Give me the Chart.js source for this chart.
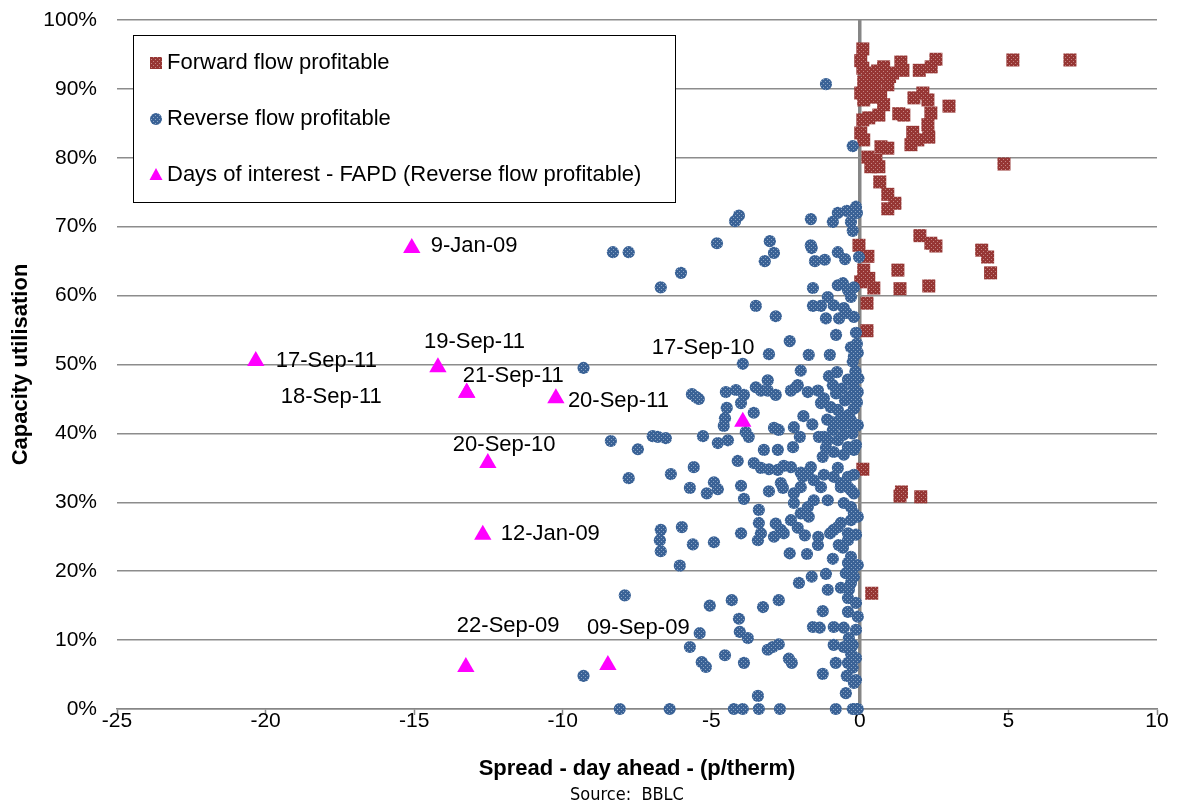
<!DOCTYPE html>
<html lang="en">
<head>
<meta charset="UTF-8">
<title>Capacity utilisation vs day-ahead spread</title>
<script src="https://cdn.jsdelivr.net/npm/chart.js"></script>
<style>
    body { margin: 0; background: #fff; }
    #wrap { width: 1184px; height: 805px; }
</style>
</head>
<body>
<div id="wrap"><canvas id="spreadChart" width="1184" height="805"></canvas></div>
<script>
// ---- data (spread p/therm, capacity utilisation %) ----
const forwardPoints = [
    [0.1,95.8],[0.03,94.1],[0.1,93.0],[0.27,92.3],[0.8,93.2],[1.38,93.9],[1.45,92.7],[1.1,92.3],[2.0,92.7],[2.4,93.2],
    [2.56,94.3],[5.15,94.2],[7.07,94.2],[0.54,91.6],[0.13,91.0],[0.94,90.6],[0.4,92.0],[0.6,92.6],[1.0,91.8],[0.2,90.0],
    [0.5,90.3],[0.03,89.4],[0.35,89.8],[0.7,89.2],[0.47,88.8],[0.13,88.4],[0.8,87.7],[1.82,88.7],[2.12,89.4],[2.29,88.4],
    [3.0,87.5],[0.64,86.2],[1.31,86.4],[1.48,86.2],[2.39,86.5],[0.1,85.5],[0.3,85.8],[2.29,84.8],[1.78,83.7],[0.03,83.6],
    [2.32,83.0],[0.13,82.6],[1.95,82.6],[1.72,81.9],[0.71,81.6],[0.94,81.4],[0.27,80.1],[0.54,79.7],[0.37,78.7],[0.64,78.7],
    [4.85,79.1],[0.67,76.5],[0.94,74.7],[0.94,72.6],[1.18,73.4],[2.02,68.7],[2.39,67.6],[2.56,67.2],[4.1,66.6],[4.3,65.6],
    [4.4,63.3],[-0.03,67.3],[0.27,65.7],[0.13,63.7],[1.28,63.7],[0.3,62.5],[0.03,62.0],[0.47,61.1],[1.35,61.0],[2.32,61.4],
    [0.24,58.9],[0.24,54.9],[0.1,34.8],[1.4,31.5],[1.35,30.9],[2.05,30.8],[0.4,16.8]
];

const reversePoints = [
    [-1.14,90.7],[-0.24,81.7],
    [-4.07,71.6],[-4.2,70.8],[-1.65,71.1],[-0.74,72.0],[-0.44,72.3],[-0.13,72.9],[-0.1,72.0],[-0.91,70.7],[-0.3,70.7],[-0.24,69.4],
    [-8.31,66.3],[-7.78,66.3],[-4.81,67.6],[-3.03,67.9],[-2.89,66.2],[-3.2,65.0],[-1.65,67.3],[-1.62,66.9],[-1.51,65.0],[-1.18,65.2],
    [-0.74,66.3],[-0.5,65.3],[-0.03,65.6],[-6.02,63.3],[-6.7,61.2],[-1.58,61.1],[-0.74,61.5],[-0.57,61.8],[-0.4,60.8],[-0.2,61.2],
    [-0.3,59.8],[-1.08,59.8],[-1.58,58.5],[-1.31,58.5],[-0.88,58.6],[-0.54,58.2],[-3.5,58.5],[-2.83,57.0],[-1.14,56.7],[-0.2,56.9],
    [-0.45,57.5],[-0.7,56.7],[-0.8,54.3],[-0.13,54.6],[-2.36,53.4],[-0.1,53.0],[-0.3,52.5],[-3.06,51.5],[-1.72,51.4],[-1.01,51.4],
    [-0.2,51.2],[-0.07,51.7],[-0.24,50.4],[-3.94,50.1],[-9.3,49.5],[-1.99,49.1],[-1.04,48.3],[-0.77,48.9],[-0.15,49.0],[-0.05,48.0],
    [-0.4,47.8],[-0.2,46.6],[-0.07,46.0],[-0.91,47.0],[-2.09,47.0],[-3.1,47.7],[-3.5,46.7],[-3.33,46.2],[-3.1,46.2],[-2.83,45.6],
    [-2.32,46.2],[-2.15,46.7],[-1.75,46.0],[-1.41,46.2],[-1.21,45.1],[-1.31,44.4],[-0.6,46.5],[-0.35,45.3],[-0.8,45.8],[-0.5,44.8],
    [-0.1,44.5],[-0.74,43.4],[-0.98,43.8],[-0.2,43.6],[-0.54,42.4],[-0.37,42.7],[-0.64,42.2],[-0.3,41.9],[-0.4,41.5],[-0.07,41.2],
    [-0.57,41.2],[-1.1,42.0],[-0.9,41.6],[-1.6,41.3],[-1.9,42.5],[-0.91,40.5],[-0.25,40.0],[-0.55,39.8],
    [-4.51,46.0],[-4.17,46.3],[-3.9,45.6],[-4.0,44.4],[-4.48,43.7],[-4.54,42.2],[-4.58,41.1],[-3.57,43.0],[-5.65,45.7],[-5.52,45.3],
    [-5.42,45.0],[-3.84,40.2],[-3.74,39.5],[-2.89,40.8],[-2.73,40.5],[-2.22,40.9],[-2.02,39.5],[-1.38,39.5],[-1.21,39.5],[-1.08,39.0],
    [-0.74,39.0],[-0.4,38.0],[-0.13,38.3],[-5.28,39.6],[-4.78,38.6],[-4.44,39.0],[-6.97,39.6],[-6.8,39.5],[-6.53,39.3],[-8.38,38.9],
    [-7.47,37.7],[-1.14,37.9],[-0.88,37.3],[-0.54,36.9],[-0.2,37.6],[-1.25,36.6],[-3.23,37.6],[-2.76,37.6],[-2.25,38.0],
    [-7.78,33.5],[-6.36,34.1],[-5.59,35.1],[-5.72,32.1],[-5.15,31.3],[-4.91,32.9],[-4.78,31.9],[-4.11,36.0],[-4.0,32.4],[-3.9,30.5],
    [-3.57,35.7],[-3.33,35.0],[-3.06,34.8],[-2.76,34.7],[-2.56,35.3],[-2.32,35.1],[-2.66,32.8],[-2.59,32.1],[-3.06,31.6],[-1.99,34.3],
    [-1.92,33.7],[-1.65,35.1],[-1.75,34.3],[-1.21,34.0],[-0.74,35.0],[-0.88,33.7],[-0.64,32.2],[-0.4,32.2],[-0.2,31.3],[-0.2,34.0],
    [-0.4,33.7],[-0.64,32.8],[-0.3,31.8],[-2.22,31.3],[-1.99,32.2],[-1.55,33.2],[-1.31,32.2],[-1.08,30.3],[-0.54,29.9],[-0.3,29.3],
    [-0.2,28.4],[-2.22,29.9],[-1.55,30.3],[-1.75,29.3],[-1.99,28.4],[-2.32,27.4],[-2.66,26.0],[-3.4,27.0],[-3.4,28.9],[-2.83,26.9],
    [-3.33,25.5],[-4.0,25.5],[-2.56,25.5],[-2.09,26.3],[-1.85,25.2],[-1.72,27.9],[-1.4,25.0],[-1.0,25.5],[-0.07,27.9],[-0.3,27.4],
    [-0.64,27.0],[-0.88,26.0],[-0.4,25.5],[-0.13,25.3],[-0.74,26.4],
    [-4.91,24.2],[-5.62,23.9],[-6.7,26.0],[-6.73,24.5],[-5.99,26.4],[-3.43,24.5],[-2.89,25.0],[-6.7,22.9],[-6.06,20.8],[-2.36,22.6],
    [-1.78,22.5],[-0.91,21.8],[-1.41,23.8],[-0.71,23.8],[-0.3,22.1],[-0.2,20.6],[-0.47,19.7],[-0.4,24.5],[-0.57,23.4],[-0.4,21.2],
    [-0.07,20.9],[-0.2,19.2],[-1.14,19.6],[-2.05,18.3],[-1.62,19.2],[-1.08,17.3],[-0.64,17.6],[-0.3,18.3],[-0.37,17.3],[-0.4,16.1],
    [-0.13,15.4],[-0.4,14.1],[-0.07,13.4],[-7.91,16.5],[-5.05,15.0],[-4.31,15.8],[-3.26,14.8],[-2.73,15.8],[-4.07,13.1],[-5.39,11.0],
    [-4.04,11.2],[-3.77,10.3],[-5.72,9.0],[-4.54,7.8],[-5.32,6.8],[-5.18,6.1],[-3.9,6.7],[-3.1,8.6],[-2.93,9.0],[-2.73,9.4],
    [-2.39,7.3],[-2.29,6.7],[-1.58,11.9],[-1.35,11.8],[-1.25,14.2],[-0.88,11.9],[-0.54,11.8],[-0.13,11.5],[-0.37,10.3],[-0.88,9.3],
    [-0.54,9.0],[-0.24,9.3],[-0.3,8.1],[-0.13,7.4],[-0.81,6.7],[-0.4,6.7],[-0.24,6.0],[-1.25,5.1],[-0.44,4.8],[-0.13,4.2],
    [-0.2,3.8],[-0.47,2.3],[-3.43,1.9],[-9.3,4.8],
    [-8.08,0],[-6.4,0],[-4.24,0],[-3.94,0],[-3.4,0],[-2.69,0],[-0.81,0],[-0.24,0],[-0.13,0],[-0.07,0]
];

const dayNames = ['9-Jan-09','17-Sep-11','19-Sep-11','21-Sep-11','18-Sep-11','20-Sep-11',
                  '17-Sep-10','20-Sep-10','12-Jan-09','22-Sep-09','09-Sep-09'];
const dayPoints = [[-15.08,66.9],[-20.33,50.5],[-14.2,49.6],[-13.23,45.9],[-13.23,45.9],[-10.23,45.1],
                   [-3.94,41.7],[-12.52,35.7],[-12.69,25.3],[-13.26,6.1],[-8.48,6.4]];

const seriesNames = ['Forward flow profitable', 'Reverse flow profitable', 'Days of interest - FAPD (Reverse flow profitable)'];
const xRange = [-25, 10];
const yRange = [0, 100];

// ---- styling ----
const sans = "'Liberation Sans', Arial, sans-serif";
// pixel offset from each triangle to the left edge of its date label
const dayLabelOffsets = [[19,-2],[20,0],[-14,-25],[-4,-17],[-186,4],[12,3],[-91,-74],[-35,-18],[18,-1],[-9,-41],[-21,-37]];

function speckle(base, dot) {
    const c = document.createElement('canvas');
    c.width = 4; c.height = 4;
    const g = c.getContext('2d');
    g.fillStyle = base; g.fillRect(0, 0, 4, 4);
    g.fillStyle = dot; g.fillRect(1, 1, 1, 1); g.fillRect(3, 3, 1, 1);
    return g.createPattern(c, 'repeat');
}
const redFill = speckle('#963634', '#c48583');
const blueFill = speckle('#3a6296', '#8ca6c6');
const pink = '#ff00ff';

const overlay = {
    id: 'overlay',
    afterDatasetsDraw(chart) {
        const { ctx, chartArea, scales: { x, y } } = chart;
        ctx.save();

        // date labels
        ctx.font = '22px ' + sans;
        ctx.fillStyle = '#000';
        ctx.textAlign = 'left';
        ctx.textBaseline = 'middle';
        dayPoints.forEach((p, i) => {
            const o = dayLabelOffsets[i];
            ctx.fillText(dayNames[i], x.getPixelForValue(p[0]) + o[0], y.getPixelForValue(p[1]) + o[1]);
        });

        // legend box
        const lx = chartArea.left + 16, ly = chartArea.top + 15;
        ctx.fillStyle = '#fff';
        ctx.fillRect(lx, ly, 542, 167);
        ctx.strokeStyle = '#000';
        ctx.lineWidth = 1;
        ctx.strokeRect(lx + 0.5, ly + 0.5, 542, 167);
        const rows = [ly + 28, ly + 84, ly + 140];
        const mx = lx + 23;
        ctx.fillStyle = redFill;
        ctx.fillRect(mx - 6, rows[0] - 6, 12, 12);
        ctx.fillStyle = blueFill;
        ctx.beginPath(); ctx.arc(mx, rows[1], 6, 0, Math.PI * 2); ctx.fill();
        ctx.fillStyle = pink;
        ctx.beginPath();
        ctx.moveTo(mx, rows[2] - 7); ctx.lineTo(mx + 6.5, rows[2] + 5); ctx.lineTo(mx - 6.5, rows[2] + 5);
        ctx.closePath(); ctx.fill();
        ctx.fillStyle = '#000';
        ctx.font = '22px ' + sans;
        seriesNames.forEach((n, i) => ctx.fillText(n, lx + 34, rows[i]));

        ctx.restore();
    },
    afterDraw(chart) {
        const ctx = chart.ctx;
        ctx.save();
        ctx.font = "18px 'DejaVu Sans Condensed', 'DejaVu Sans', sans-serif";
        ctx.fillStyle = '#000';
        ctx.textAlign = 'center';
        ctx.textBaseline = 'middle';
        ctx.fillText('Source:  BBLC', 627, 795);
        ctx.restore();
    }
};

const toXY = pts => pts.map(p => ({ x: p[0], y: p[1] }));

new Chart(document.getElementById('spreadChart'), {
    type: 'scatter',
    data: {
        datasets: [
            {
                label: seriesNames[0],
                data: toXY(forwardPoints),
                pointStyle: 'rect',
                pointRadius: 9.2,
                backgroundColor: redFill,
                borderWidth: 0,
                order: 3,
                clip: false
            },
            {
                label: seriesNames[1],
                data: toXY(reversePoints),
                pointStyle: 'circle',
                pointRadius: 6.1,
                backgroundColor: blueFill,
                borderWidth: 0,
                order: 2,
                clip: false
            },
            {
                label: seriesNames[2],
                data: toXY(dayPoints),
                pointStyle: 'triangle',
                pointRadius: 10,
                backgroundColor: pink,
                borderWidth: 0,
                order: 1,
                clip: false
            }
        ]
    },
    options: {
        responsive: false,
        animation: false,
        events: [],
        layout: { padding: { left: 0, right: 27, top: 20, bottom: 0 } },
        plugins: {
            legend: { display: false },
            tooltip: { enabled: false }
        },
        scales: {
            x: {
                type: 'linear',
                min: xRange[0],
                max: xRange[1],
                ticks: { stepSize: 5, color: '#000', font: { size: 21, family: sans }, padding: -6, maxRotation: 0 },
                grid: {
                    color: c => (c.tick && c.tick.value === 0) ? '#868686' : 'rgba(0,0,0,0)',
                    lineWidth: c => (c.tick && c.tick.value === 0) ? 3.5 : 1,
                    tickColor: '#868686',
                    tickWidth: 1.5,
                    tickLength: 6
                },
                border: { display: true, color: '#868686', width: 1.5 },
                title: {
                    display: true,
                    text: 'Spread - day ahead - (p/therm)',
                    color: '#000',
                    font: { size: 22, weight: 'bold', family: sans },
                    padding: { top: 0, bottom: 23 }
                },
                afterFit: s => { s.height = 96; }
            },
            y: {
                min: yRange[0],
                max: yRange[1],
                ticks: { stepSize: 10, color: '#000', font: { size: 21, family: sans }, padding: 20, callback: v => v + '%' },
                grid: { color: '#8c8c8c', lineWidth: 1.5, drawTicks: false },
                border: { display: false },
                title: {
                    display: true,
                    text: 'Capacity utilisation',
                    color: '#000',
                    font: { size: 22, weight: 'bold', family: sans },
                    padding: { top: 8, bottom: 0 }
                },
                afterFit: s => { s.width = 117; s.paddingTop = 0; s.paddingBottom = 0; }
            }
        }
    },
    plugins: [overlay]
});
</script>
</body>
</html>
